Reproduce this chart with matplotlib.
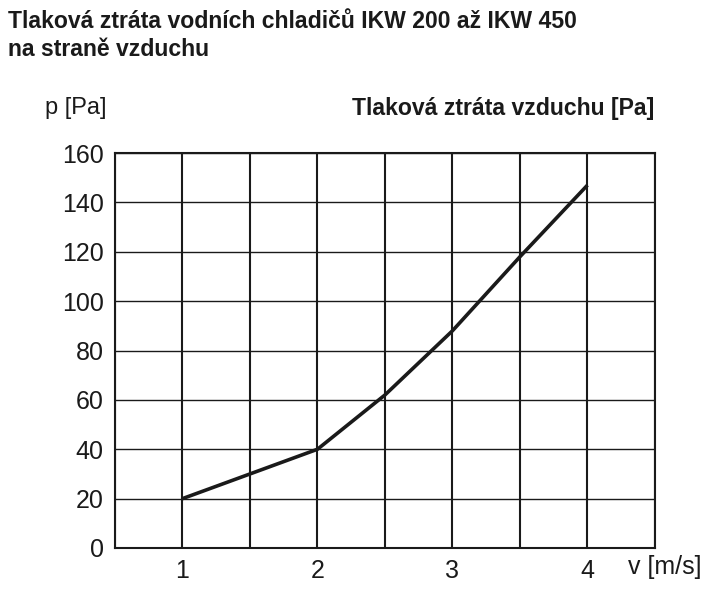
import matplotlib
matplotlib.use("Agg")
import matplotlib.pyplot as plt
from matplotlib import font_manager

# font: narrow Helvetica-like if available
names = set(f.name for f in font_manager.fontManager.ttflist)
fam = "Liberation Sans Narrow" if "Liberation Sans Narrow" in names else "Liberation Sans"
plt.rcParams["font.family"] = [fam, "DejaVu Sans"]

# data
v = [1, 1.5, 2, 2.5, 3, 3.5, 4]
p = [20, 30, 40, 62, 88, 118, 147]

x_ticks = [1, 2, 3, 4]
y_ticks = [0, 20, 40, 60, 80, 100, 120, 140, 160]
v_grid = [0.5, 1, 1.5, 2, 2.5, 3, 3.5, 4, 4.5]

ink = "#1a1a1a"

fig = plt.figure(figsize=(7.2, 6.01), dpi=100)
ax = fig.add_axes([0.1597, 0.0882, 0.75, 0.6572])

for x in v_grid:
    ax.axvline(x, color=ink, lw=1.5, zorder=1)
for y in y_ticks:
    ax.axhline(y, color=ink, lw=1.0, zorder=1)

ax.plot(v, p, color=ink, lw=2.6, solid_capstyle="butt", zorder=3)

ax.set_xlim(0.5, 4.5)
ax.set_ylim(0, 160)
ax.set_xticks(x_ticks)
ax.set_yticks(y_ticks)
ax.tick_params(length=0, labelsize=18, colors=ink, pad=8)
for s in ax.spines.values():
    s.set_color(ink)
    s.set_linewidth(1.5)

fig.text(0.011, 0.965, "Tlaková ztráta vodních chladičů IKW 200 až IKW 450",
         fontsize=16.6, fontweight="bold", color=ink, va="center")
fig.text(0.011, 0.918, "na straně vzduchu",
         fontsize=16.6, fontweight="bold", color=ink, va="center")
fig.text(0.062, 0.82, "p [Pa]", fontsize=17, color=ink, va="center")
fig.text(0.908, 0.82, "Tlaková ztráta vzduchu [Pa]", fontsize=16.6,
         fontweight="bold", color=ink, va="center", ha="right")
fig.text(0.872, 0.057, "v [m/s]", fontsize=18, color=ink, va="center")

fig.savefig("out.png", dpi=100)
